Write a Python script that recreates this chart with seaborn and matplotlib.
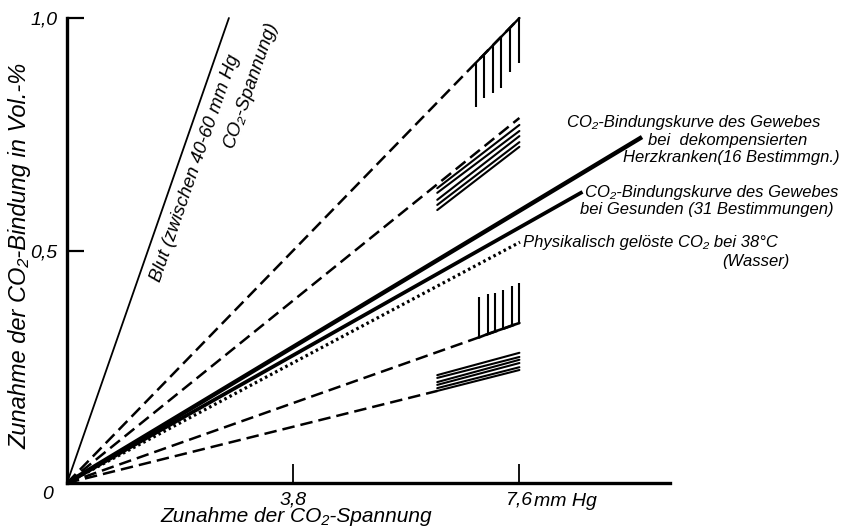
import numpy as np
import matplotlib
matplotlib.use("Agg")
import matplotlib.pyplot as plt
import seaborn as sns

# --- Werte ---
blut_x = [0, 2.72]
blut_y = [0, 1.0]

dash_end_x = [7.6, 7.6, 7.6, 6.22]
dash_end_y = [1.0, 0.785, 0.344, 0.198]

herz_x = [0, 9.66]
herz_y = [0, 0.744]
ges_x = [0, 8.66]
ges_y = [0, 0.626]
phys_x = [0, 7.61]
phys_y = [0, 0.518]

# senkrechte Schraffur oben
hatch1_x = [6.87, 7.01, 7.16, 7.29, 7.45, 7.6]
hatch1_top = [0.904, 0.922, 0.942, 0.959, 0.980, 1.0]
hatch1_bot = [0.809, 0.828, 0.839, 0.849, 0.884, 0.903]

# senkrechte Schraffur unten
hatch2_x = [6.92, 7.08, 7.19, 7.33, 7.48, 7.6]
hatch2_bot = [0.313, 0.321, 0.326, 0.332, 0.339, 0.344]
hatch2_top = [0.400, 0.406, 0.409, 0.415, 0.424, 0.430]

# parallele Einzelbestimmungen
par_x = [6.22, 7.6]
par1_left = [0.634, 0.624, 0.609, 0.598, 0.587]
par1_right = [0.770, 0.757, 0.746, 0.733, 0.723]
par2_left = [0.232, 0.226, 0.217, 0.211, 0.204, 0.198]
par2_right = [0.280, 0.271, 0.265, 0.258, 0.249, 0.243]

x_ticks = [3.8, 7.6]
x_ticklabels = ["3,8", "7,6"]
y_ticks = [0.5, 1.0]
y_ticklabels = ["0,5", "1,0"]

sns.set_theme(style="white")
plt.rcParams['font.family'] = ["Liberation Sans", "DejaVu Sans"]
plt.rcParams['font.style'] = 'italic'
for k in ("text.color", "axes.labelcolor", "xtick.color", "ytick.color"):
    plt.rcParams[k] = "black"

fig = plt.figure(figsize=(8.44, 5.32), dpi=100)
ax = fig.add_axes([67 / 844, 49 / 532, 603 / 844, 465 / 532])
ax.set_xlim(0, 10.13)
ax.set_ylim(0, 1.0)

K = "black"
dash = (0, (5, 2.4))


def line(x, y, **kw):
    sns.lineplot(x=x, y=y, ax=ax, color=K, sort=False, estimator=None,
                 legend=False, clip_on=False, **kw)


line(blut_x, blut_y, linewidth=1.3)
for xe, ye in zip(dash_end_x, dash_end_y):
    line([0, xe], [0, ye], linewidth=1.8, linestyle=dash)
line(herz_x, herz_y, linewidth=3.2, solid_capstyle="butt")
line(ges_x, ges_y, linewidth=2.7, solid_capstyle="butt")
line(phys_x, phys_y, linewidth=2.3, linestyle=(0, (0.8, 1.0)))

# Schraffuren
line(hatch1_x, hatch1_top, linewidth=1.7)
ax.vlines(hatch1_x, hatch1_bot, hatch1_top, color=K, linewidth=1.5, clip_on=False)
line(hatch2_x, hatch2_bot, linewidth=1.9)
ax.vlines(hatch2_x, hatch2_bot, hatch2_top, color=K, linewidth=1.5, clip_on=False)
for a, b in zip(par1_left, par1_right):
    line(par_x, [a, b], linewidth=1.5)
for a, b in zip(par2_left, par2_right):
    line(par_x, [a, b], linewidth=1.5)

# Achsen
sns.despine(ax=ax)
for s in ("left", "bottom"):
    ax.spines[s].set_linewidth(2.4)
    ax.spines[s].set_color(K)
ax.set_xticks(x_ticks)
ax.set_xticklabels(x_ticklabels)
ax.set_yticks(y_ticks)
ax.set_yticklabels(y_ticklabels)
ax.tick_params(axis="x", direction="in", length=14, width=1.3, color=K,
               labelsize=14, pad=6, bottom=True)
ax.tick_params(axis="y", direction="in", length=12, width=1.6, color=K,
               labelsize=14, pad=7, left=True)
ax.text(-0.33, -0.006, "0", fontsize=14, ha="center", va="top")
ax.text(7.85, -0.021, "mm Hg", fontsize=14, ha="left", va="top")

ax.text(3.85, -0.052, "Zunahme der CO₂-Spannung", fontsize=15, ha="center", va="top")
fig.text(20 / 844, 1 - 256 / 532, "Zunahme der CO₂-Bindung in Vol.-%",
         fontsize=17, rotation=90, ha="center", va="center")

# Beschriftungen
p0 = ax.transData.transform((blut_x[0], blut_y[0]))
p1 = ax.transData.transform((blut_x[1], blut_y[1]))
ang = np.degrees(np.arctan2(p1[1] - p0[1], p1[0] - p0[0]))
ax.text(1.56, 0.43, "Blut (zwischen 40-60 mm Hg", fontsize=13.5, rotation=ang,
        rotation_mode="anchor", ha="left", va="baseline")
ax.text(2.80, 0.72, "CO₂-Spannung)", fontsize=13.5, rotation=ang,
        rotation_mode="anchor", ha="left", va="baseline")

fs = 12
ax.text(8.40, 0.766, "CO₂-Bindungskurve des Gewebes", fontsize=fs, va="baseline")
ax.text(9.76, 0.727, "bei  dekompensierten", fontsize=fs, va="baseline")
ax.text(9.34, 0.690, "Herzkranken(16 Bestimmgn.)", fontsize=fs, va="baseline")
ax.text(8.71, 0.615, "CO₂-Bindungskurve des Gewebes", fontsize=fs, va="baseline")
ax.text(8.62, 0.578, "bei Gesunden (31 Bestimmungen)", fontsize=fs, va="baseline")
ax.text(7.66, 0.507, "Physikalisch gelöste CO₂ bei 38°C", fontsize=fs, va="baseline")
ax.text(11.01, 0.467, "(Wasser)", fontsize=fs, va="baseline")

fig.savefig("out.png", dpi=100)
